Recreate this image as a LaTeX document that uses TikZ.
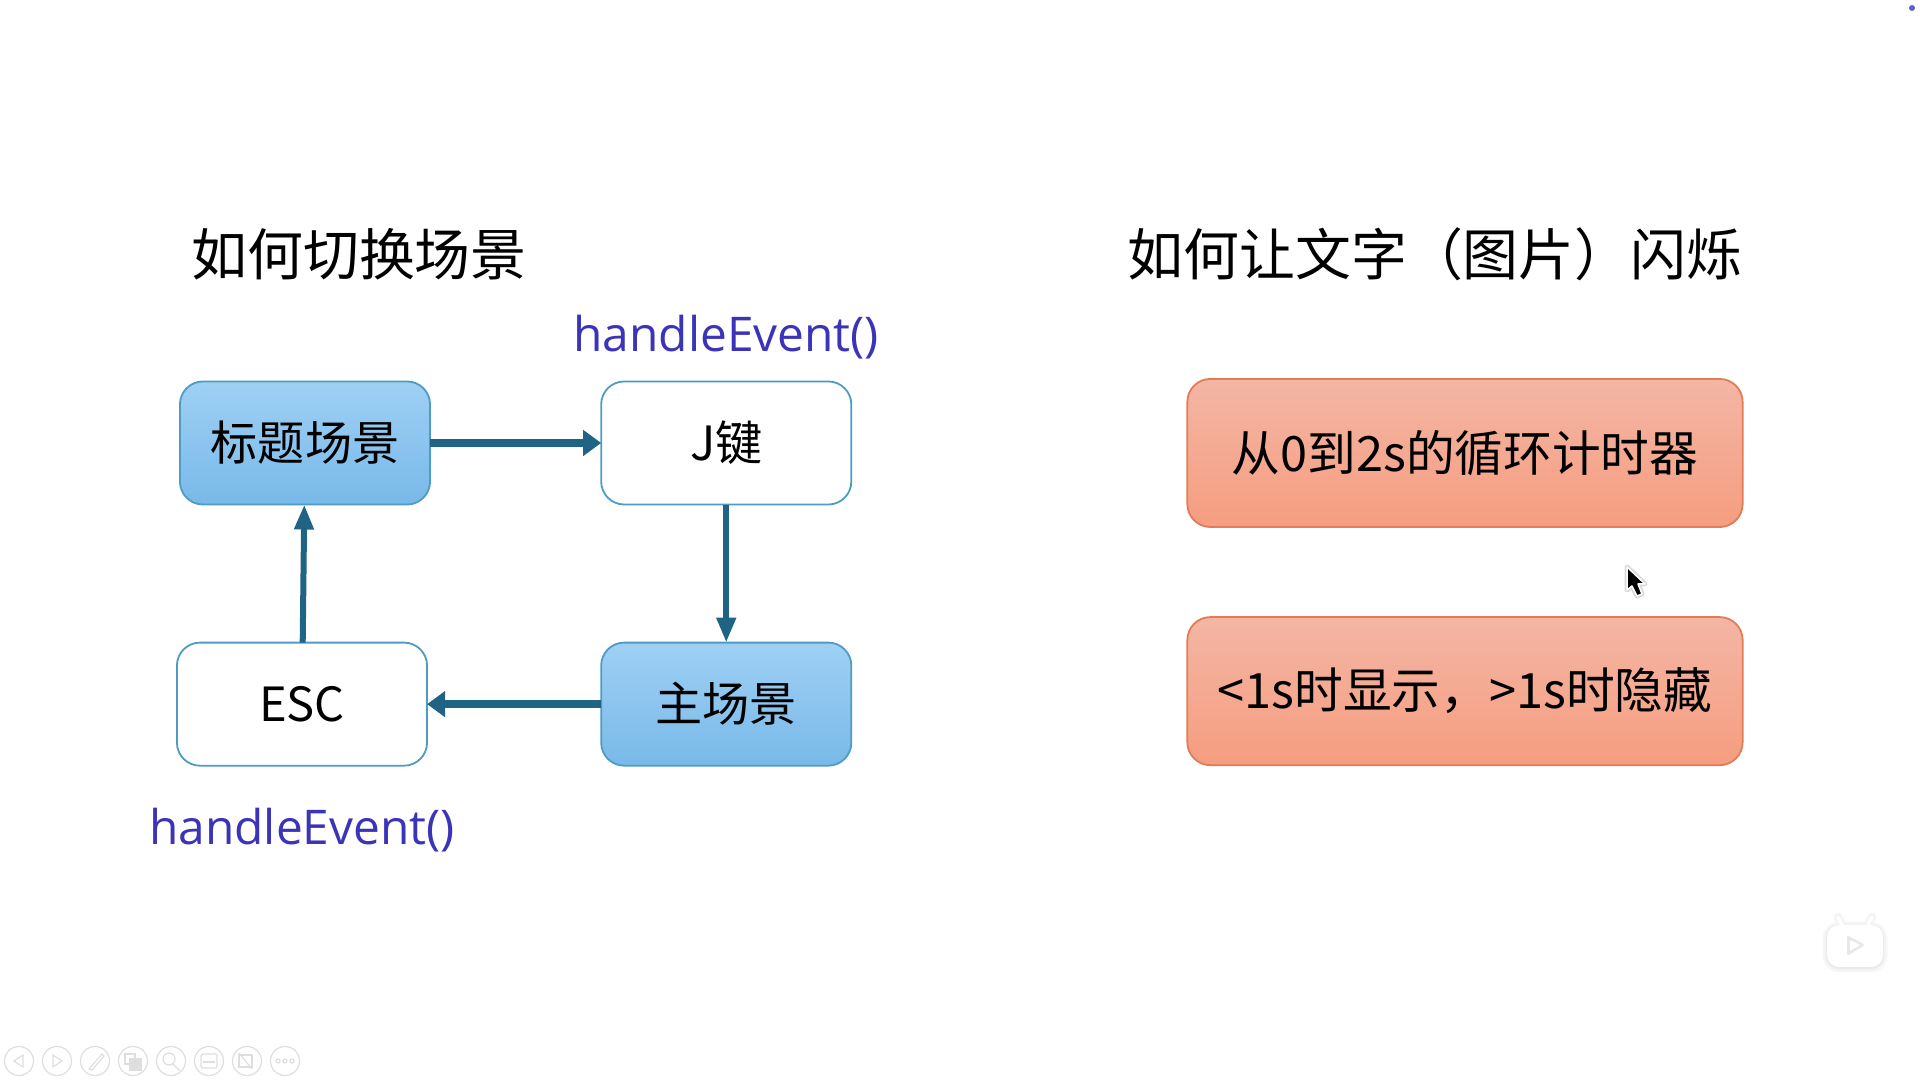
\documentclass[tikz,border=0pt]{standalone}
\usepackage{fontspec}
\setmainfont{Noto Sans CJK SC}
\newfontfamily\eventfont{Open Sans}
\usepackage{tikz}
\usetikzlibrary{positioning}
\usetikzlibrary{arrows.meta}

\definecolor{skytop}{HTML}{9FD0F4}
\definecolor{skybot}{HTML}{78B9E9}
\definecolor{skyline}{HTML}{4F9CC2}
\definecolor{salmontop}{HTML}{F4B6A4}
\definecolor{salmonbot}{HTML}{F59D80}
\definecolor{salmonline}{HTML}{E27C56}
\definecolor{flowcol}{HTML}{1F6485}
\definecolor{eventcol}{HTML}{3C34B8}
\definecolor{toolcol}{HTML}{DEDEDE}

\begin{document}
\begin{tikzpicture}[x=0.01cm, y=-0.01cm]
        \tikzset{
          basebox/.style={draw, rounded corners=0.23cm, outer sep=0pt, line width=0.018cm,
            font=\fontsize{13.4}{16}\selectfont},
          scenebox/.style={basebox, minimum width=2.5cm, minimum height=1.23cm, draw=skyline,
            top color=skytop, bottom color=skybot},
          keybox/.style={basebox, minimum width=2.5cm, minimum height=1.23cm, draw=skyline, fill=white},
          timerbox/.style={basebox, minimum width=5.55cm, minimum height=1.48cm, draw=salmonline,
            top color=salmontop, bottom color=salmonbot, font=\fontsize{13.85}{16}\selectfont},
          heading/.style={font=\fontsize{15.9}{19}\selectfont},
          eventlabel/.style={text=eventcol, font=\eventfont\fontsize{13.6}{16}\selectfont},
          flow/.style={draw=flowcol, line width=0.08cm,
            -{Triangle[length=0.18cm, width=0.25cm]}},
          flowv/.style={draw=flowcol, line width=0.06cm,
            -{Triangle[length=0.25cm, width=0.185cm]}},
          toolring/.style={draw=toolcol, line width=0.012cm},
          badgeshade/.style={draw=black!#1, line cap=round, line join=round}
        }

        \useasboundingbox (0,0) rectangle (1920,1080);

        \node[heading] (headleft) at (359,254) {如何切换场景};
        \node[heading] (headright) at (1435,254) {如何让文字（图片）闪烁};

        \node[scenebox] (title) at (305,443) {标题场景};
        \node[keybox, right=1.71cm of title] (jkey) {J键};
        \node[scenebox, below=1.38cm of jkey] (main) {主场景};
        \node[keybox, left=1.74cm of main] (esc) {ESC};

        \node[eventlabel, above=0.1cm of jkey] (jevent) {handleEvent()};
        \node[eventlabel, below=0.3cm of esc] (escevent) {handleEvent()};

        \draw[flow] (title) -- (jkey);
        \draw[flowv] (jkey) -- (main);
        \draw[flow] (main) -- (esc);
        \draw[flowv] (esc) -- (title);

        \node[timerbox] (timer) at (1465,453) {从0到2s的循环计时器};
        \node[timerbox, below=0.9cm of timer] (blink) {<1s时显示，>1s时隐藏};

        % player toolbar
        \foreach \i in {0,...,7} {
          \node[toolring, circle, minimum size=0.29cm, inner sep=0pt] (tool\i) at (19+38*\i,1061) {};
        }
        \draw[toolring] (23,1055) -- (14,1061) -- (23,1067) -- cycle;
        \draw[toolring] (53,1055) -- (62,1061) -- (53,1067) -- cycle;
        \draw[toolring] (89,1069) -- (102,1054) -- (104,1056) -- (92,1070) -- cycle;
        \draw[toolring] (125,1054) rectangle (135,1064);
        \draw[toolring, fill=toolcol] (130,1059) rectangle (141,1070);
        \draw[toolring] (169,1059) circle (6);
        \draw[toolring] (173,1064) -- (180,1071);
        \draw[toolring, rounded corners=0.02cm] (201,1054) rectangle (217,1068);
        \draw[toolring] (203,1062) -- (215,1062);
        \draw[toolring] (239,1055) rectangle (252,1067);
        \draw[toolring] (239,1053) -- (252,1069);
        \foreach \i in {278,285,292} {
          \draw[toolring] (\i,1061) circle (2);
        }

        % video badge
        \foreach \w/\g in {0.09/3,0.05/5,0.02/8} {
          \draw[badgeshade=\g, line width=\w cm] (1843,927) -- (1838,917);
          \draw[badgeshade=\g, line width=\w cm] (1867,927) -- (1872,917);
          \draw[badgeshade=\g, line width=\w cm, rounded corners=0.12cm] (1827,926) rectangle (1883,968);
        }
        \fill[white, rounded corners=0.12cm] (1827,925) rectangle (1883,967);
        \draw[white, line width=0.035cm, line cap=round] (1843,927) -- (1838,917);
        \draw[white, line width=0.035cm, line cap=round] (1867,927) -- (1872,917);
        \fill[black!9, rounded corners=0.02cm] (1847,935) -- (1865,945) -- (1847,956) -- cycle;
        \fill[white, rounded corners=0.01cm] (1850,940) -- (1860,945) -- (1850,951) -- cycle;

        % mouse pointer
        \draw[black!15, line width=0.05cm, line join=round]
          (1627,567) -- (1627,590) -- (1632,586) -- (1637,596) -- (1642,594) -- (1638,584) -- (1645,584) -- cycle;
        \draw[white, line width=0.015cm, fill=black, line join=round]
          (1627,567) -- (1627,590) -- (1632,586) -- (1637,596) -- (1642,594) -- (1638,584) -- (1645,584) -- cycle;

        % corner dot
        \fill[eventcol!80] (1912,8) circle (3);
      \end{tikzpicture}
\end{document}
